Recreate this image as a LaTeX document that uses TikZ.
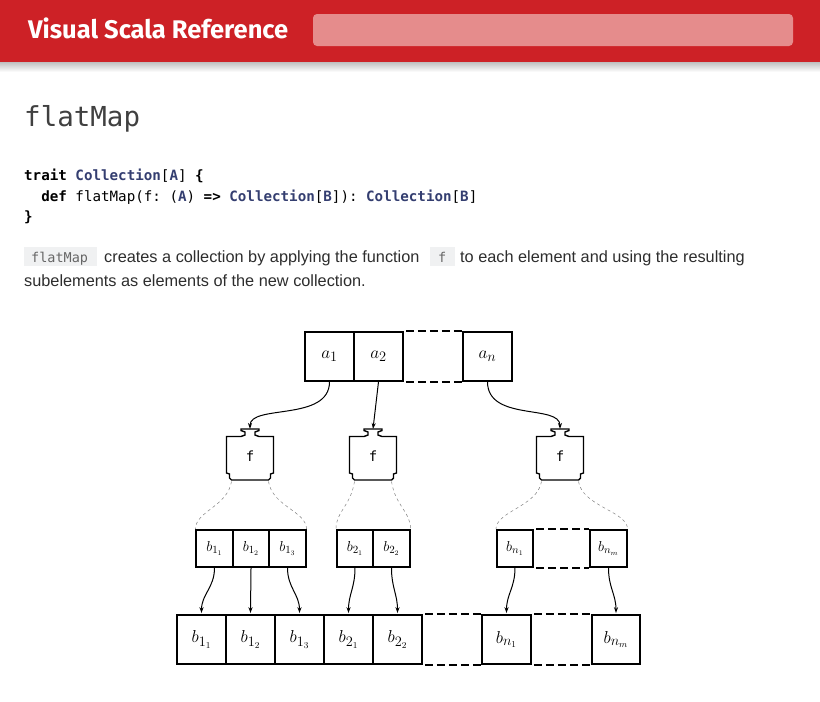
\documentclass[tikz,border=0pt]{standalone}
\usepackage{fontspec}
\usepackage{amsmath}
\setmainfont{Liberation Sans}
\setmonofont{DejaVu Sans Mono}
\newfontfamily\titlefont{Fira Sans}
\usetikzlibrary{arrows.meta}
\definecolor{scalared}{RGB}{205,33,38}
\definecolor{searchbg}{RGB}{229,140,140}
\definecolor{typeblue}{RGB}{52,62,112}
\definecolor{inlinebg}{RGB}{240,241,242}
\definecolor{bodytext}{RGB}{45,45,45}
\newcommand{\tp}[1]{\textcolor{typeblue}{\textbf{#1}}}
\newcommand{\fshape}{%
  (-9,-25.5) -- (9,-25.5) -- (9,-24) -- (5,-22.5) -- (5,-19.5) -- (9,-18)
  -- (23.5,-18) -- (23.5,18.5) -- (20.5,19.5) -- (20.5,23.5) -- (18.5,25.5)
  -- (-18.5,25.5) -- (-20.5,23.5) -- (-20.5,19.5) -- (-23.5,18.5)
  -- (-23.5,-18) -- (-9,-18) -- (-5,-19.5) -- (-5,-22.5) -- (-9,-24) -- cycle}

\begin{document}
\begin{tikzpicture}[x=1pt,y=-1pt,
  cell/.style={draw,line width=1.6pt,minimum width=49pt,minimum height=49pt,
    inner sep=0pt,font=\fontsize{19}{19}\selectfont},
  small/.style={cell,minimum width=36.5pt,minimum height=37pt,font=\fontsize{15}{15}\selectfont},
  hole/.style={cell,draw=none},
  gapline/.style={line width=1.6pt,dash pattern=on 8pt off 4pt,dash phase=-2pt},
  link/.style={-{Stealth[length=6pt,width=4pt]},line width=1pt},
  spread/.style={gray,dashed,line width=0.5pt},
  fn/.style={line width=1.4pt,fill=white}]

\useasboundingbox (0,0) rectangle (820,702);

% page header
\shade[top color=black!25,bottom color=white] (0,62) rectangle (820,72);
\fill[scalared] (0,0) rectangle (820,62);
\fill[searchbg,rounded corners=4pt] (313,14) rectangle (793,46);
\node[anchor=base west,inner sep=0pt,text=white,font=\titlefont\bfseries\fontsize{25.5}{26}\selectfont]
  (title) at (28,38) {Visual Scala Reference};

% text of the page
\node[anchor=base west,inner sep=0pt,text=black!75,font=\ttfamily\fontsize{27.5}{28}\selectfont]
  (heading) at (24,126) {flatMap};
\begin{scope}[font=\ttfamily\fontsize{14.2}{14}\selectfont,anchor=base west,inner sep=0pt]
\node (code1) at (24,180) {\textbf{trait} \tp{Collection}[\tp{A}] \textbf{\{}};
\node (code2) at (24,201) {\ \ \textbf{def} flatMap(f: (\tp{A}) \textbf{=>} \tp{Collection}[\tp{B}]): \tp{Collection}[\tp{B}]};
\node (code3) at (24,221) {\textbf{\}}};
\end{scope}
\fill[inlinebg] (24,247) rectangle (97,266);
\fill[inlinebg] (430,247) rectangle (455,266);
\begin{scope}[anchor=base west,inner sep=0pt,text=bodytext,font=\fontsize{16.3}{16}\selectfont]
\node[font=\ttfamily\fontsize{13.5}{14}\selectfont,text=black!60] (code4) at (31,262) {flatMap};
\node (para1) at (104,262) {creates a collection by applying the function};
\node[font=\ttfamily\fontsize{13.5}{14}\selectfont,text=black!60] (code5) at (438,262) {f};
\node (para2) at (460,262) {to each element and using the resulting};
\node (para3) at (24,286) {subelements as elements of the new collection.};
\end{scope}

% input collection
\node[cell] (a1) at (329.5,356.5) {$a_1$};
\node[cell] (a2) at (378.5,356.5) {$a_2$};
\node[cell] (an) at (487.5,356.5) {$a_n$};
\draw[gapline] (a2.north east) -- (an.north west);
\draw[gapline] (a2.south east) -- (an.south west);

% function boxes
\foreach \name/\x in {f1/250,f2/373,f3/560} {
  \begin{scope}[shift={(\x,454.5)}]
  \draw[fn] \fshape;
  \node[font=\ttfamily\fontsize{14}{14}\selectfont] (\name) at (0,2) {f};
  \coordinate (\name top) at (0,-25.5);
  \coordinate (\name bl) at (-18.5,27);
  \coordinate (\name br) at (18.5,27);
  \end{scope}
}

\draw[link] (a1.south) .. controls +(0,40) and +(0,-25) .. (f1top);
\draw[link] (a2.south) -- (f2top);
\draw[link] (an.south) .. controls +(0,40) and +(0,-25) .. (f3top);

% subcollections
\node[small] (s11) at (214.5,548.5) {$b_{1_1}$};
\node[small] (s12) at (251,548.5) {$b_{1_2}$};
\node[small] (s13) at (287.5,548.5) {$b_{1_3}$};
\node[small] (s21) at (355,548.5) {$b_{2_1}$};
\node[small] (s22) at (391.5,548.5) {$b_{2_2}$};
\node[small] (sn1) at (515,548.5) {$b_{n_1}$};
\node[small] (snm) at (608.5,548.5) {$b_{n_m}$};
\draw[gapline] (sn1.north east) -- (snm.north west);
\draw[gapline] (sn1.south east) -- (snm.south west);

\draw[spread] (f1bl) .. controls +(-4,25) and +(0,-18) .. (s11.north west);
\draw[spread] (f1br) .. controls +(4,25) and +(0,-18) .. (s13.north east);
\draw[spread] (f2bl) .. controls +(-4,25) and +(0,-18) .. (s21.north west);
\draw[spread] (f2br) .. controls +(4,25) and +(0,-18) .. (s22.north east);
\draw[spread] (f3bl) .. controls +(-4,25) and +(0,-18) .. (sn1.north west);
\draw[spread] (f3br) .. controls +(4,25) and +(0,-18) .. (snm.north east);

% result collection
\node[cell] (b11) at (201.5,639.5) {$b_{1_1}$};
\node[cell] (b12) at (250.5,639.5) {$b_{1_2}$};
\node[cell] (b13) at (299.5,639.5) {$b_{1_3}$};
\node[cell] (b21) at (348.5,639.5) {$b_{2_1}$};
\node[cell] (b22) at (397.5,639.5) {$b_{2_2}$};
\node[cell] (bn1) at (506.5,639.5) {$b_{n_1}$};
\node[cell,minimum width=48pt] (bnm) at (616,639.5) {$b_{n_m}$};
\draw[gapline] (b22.north east) -- (bn1.north west);
\draw[gapline] (b22.south east) -- (bn1.south west);
\draw[gapline] (bn1.north east) -- (bnm.north west);
\draw[gapline] (bn1.south east) -- (bnm.south west);

\foreach \from/\to in {s11/b11,s12/b12,s13/b13,s21/b21,s22/b22,sn1/bn1,snm/bnm}
  \draw[link,shorten >=1pt] (\from.south) .. controls +(0,20) and +(0,-20) .. (\to.north);
\end{tikzpicture}
\end{document}
